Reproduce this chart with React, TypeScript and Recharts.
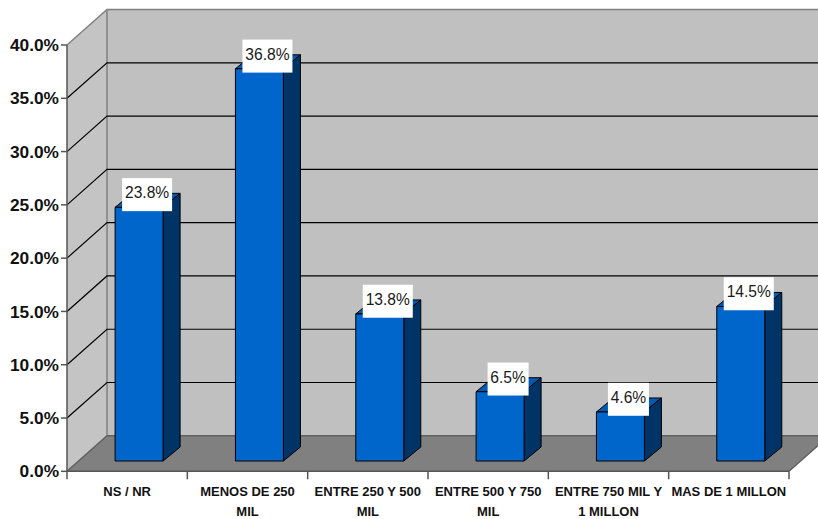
import React from "react";
import { BarChart, Bar, XAxis, YAxis, CartesianGrid, ReferenceArea, LabelList } from "recharts";

const categories = [
  "NS / NR",
  "MENOS DE 250\nMIL",
  "ENTRE 250 Y 500\nMIL",
  "ENTRE 500 Y 750\nMIL",
  "ENTRE 750 MIL Y\n1 MILLON",
  "MAS DE 1 MILLON",
];
const shares = [23.8, 36.8, 13.8, 6.5, 4.6, 14.5];
const yTicks = [0, 5, 10, 15, 20, 25, 30, 35, 40];

const data = categories.map((name, i) => ({ name, share: shares[i] }));

const W = 818;
const H = 519;
const LEFT = 67;
const RIGHT = 789;
const TOP = 45;
const BOTTOM = 471.3;
const DX = 40;
const DY = 35.5;
const BAR_SHIFT_X = 12;
const BAR_SHIFT_Y = 10.3;
const BAR_DX = 17;
const BAR_DY = 14;
const BAND = (RIGHT - LEFT) / categories.length;
const FONT = "'Liberation Sans', Arial, sans-serif";

const pts = (a: number[][]) => a.map((p) => p.join(",")).join(" ");

const Walls = (props: any) => {
  const { x, y, width, height } = props;
  const l = x, r = x + width, t = y, b = y + height;
  return (
    <g>
      <polygon points={pts([[l + DX, t - DY], [r + DX, t - DY], [r + DX, b - DY], [l + DX, b - DY]])} fill="#c0c0c0" />
      <polygon points={pts([[l, t], [l + DX, t - DY], [l + DX, b - DY], [l, b]])} fill="#c4c4c4" />
      <polygon points={pts([[l, b], [l + DX, b - DY], [r + DX, b - DY], [r, b]])} fill="#808080" />
      <polyline points={pts([[l, t], [l + DX, t - DY], [r + DX, t - DY]])} fill="none" stroke="#808080" strokeWidth={1.5} />
      <line x1={l + DX} y1={t - DY} x2={l + DX} y2={b - DY} stroke="#808080" strokeWidth={1.5} />
      <polyline points={pts([[l, b], [l + DX, b - DY], [r + DX, b - DY], [r, b]])} fill="none" stroke="#606060" strokeWidth={1.5} />
    </g>
  );
};

const GridLine = (props: any) => {
  const { x1, x2, y1 } = props;
  if (Math.abs(y1 - TOP) < 1 || Math.abs(y1 - BOTTOM) < 1) return <g />;
  return (
    <polyline
      points={pts([[x1, y1], [x1 + DX, y1 - DY], [x2 + DX, y1 - DY]])}
      fill="none"
      stroke="#000"
      strokeWidth={1.2}
    />
  );
};

const Bar3D = (props: any) => {
  const { x, y, width, height } = props;
  const l = x + BAR_SHIFT_X;
  const t = y - BAR_SHIFT_Y;
  const r = l + width;
  const b = t + height;
  return (
    <g stroke="#000" strokeWidth={1} strokeLinejoin="round">
      <polygon points={pts([[l, t], [l + BAR_DX, t - BAR_DY], [r + BAR_DX, t - BAR_DY], [r, t]])} fill="#0059b3" />
      <polygon points={pts([[r, t], [r + BAR_DX, t - BAR_DY], [r + BAR_DX, b - BAR_DY], [r, b]])} fill="#003366" />
      <rect x={l} y={t} width={width} height={height} fill="#0066cc" />
    </g>
  );
};

const ValueLabel = (props: any) => {
  const { x, y, width, value } = props;
  const text = Number(value).toFixed(1) + "%";
  const cx = x + width / 2 + BAR_SHIFT_X + 8;
  const cy = y - BAR_SHIFT_Y - 12.7;
  const boxW = value < 10 ? 41 : 50;
  return (
    <g>
      <rect x={cx - boxW / 2} y={cy - 16.5} width={boxW} height={33} fill="#fff" />
      <text x={cx} y={cy + 3.5} textAnchor="middle" fontFamily={FONT} fontSize={15.6} fill="#1a1a1a">
        {text}
      </text>
    </g>
  );
};

const CategoryTick = (props: any) => {
  const { x, payload, index } = props;
  const lines = String(payload.value).split("\n");
  const left = x - BAND / 2;
  return (
    <g>
      <line x1={left} y1={BOTTOM} x2={left} y2={BOTTOM + 8} stroke="#555" strokeWidth={1.5} />
      {index === categories.length - 1 && (
        <line x1={left + BAND} y1={BOTTOM} x2={left + BAND} y2={BOTTOM + 8} stroke="#555" strokeWidth={1.5} />
      )}
      {lines.map((ln, i) => (
        <text
          key={i}
          x={x}
          y={BOTTOM + 25 + i * 19.4}
          textAnchor="middle"
          fontFamily={FONT}
          fontSize={13}
          fontWeight="bold"
          fill="#111"
        >
          {ln}
        </text>
      ))}
    </g>
  );
};

export default function App() {
  return (
    <div style={{ position: "absolute", left: 0, top: 0, width: W, height: H, background: "#fff" }}>
      <BarChart
        width={W}
        height={H}
        data={data}
        margin={{ top: TOP, left: 0, right: W - RIGHT, bottom: 0 }}
        barCategoryGap="30%"
      >
        <ReferenceArea y1={0} y2={40} ifOverflow="visible" shape={<Walls />} fill="none" stroke="none" zIndex={-500} />
        <CartesianGrid horizontal={<GridLine />} vertical={false} stroke="#000" zIndex={-100} />
        <XAxis
          dataKey="name"
          height={H - BOTTOM}
          interval={0}
          axisLine={{ stroke: "#555", strokeWidth: 1.5 }}
          tickLine={false}
          tick={<CategoryTick />}
        />
        <YAxis
          width={LEFT}
          domain={[0, 40]}
          ticks={yTicks}
          interval={0}
          axisLine={{ stroke: "#555", strokeWidth: 1.5 }}
          tickLine={{ stroke: "#555", strokeWidth: 1.5 }}
          tickSize={6}
          tickMargin={2}
          tickFormatter={(v: number) => v.toFixed(1) + "%"}
          tick={{ fontFamily: FONT, fontSize: 17.3, fontWeight: "bold", fill: "#111" }}
        />
        <Bar dataKey="share" isAnimationActive={false} shape={<Bar3D />}>
          <LabelList dataKey="share" content={<ValueLabel />} />
        </Bar>
      </BarChart>
    </div>
  );
}
